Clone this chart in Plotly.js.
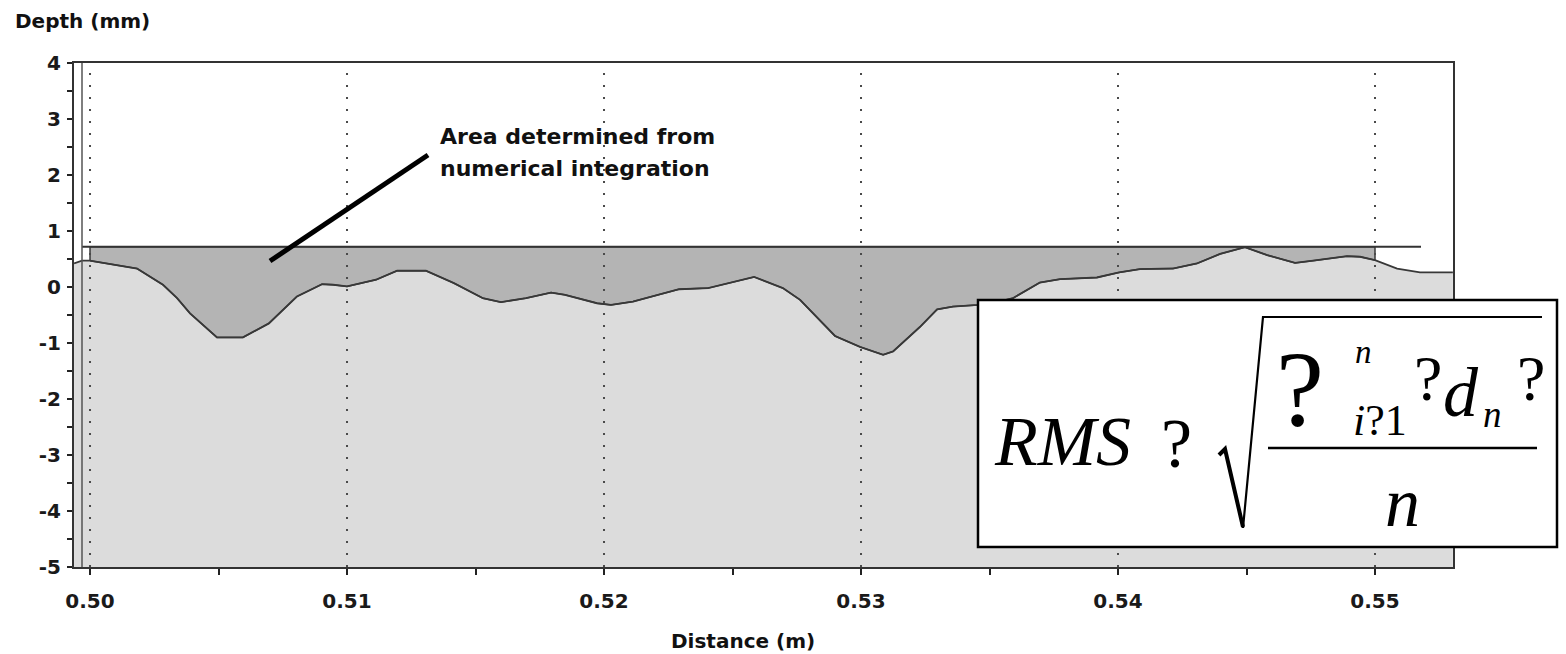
<!DOCTYPE html>
<html><head><meta charset="utf-8">
<script src="https://cdn.plot.ly/plotly-3.0.1.min.js"></script>
<style>html,body{margin:0;padding:0;background:#fff;}#chart{width:1566px;height:654px;}</style>
</head><body><div id="chart"></div>
<script>
// ---- data ----
const distance = [0.49938, 0.49969, 0.50000, 0.50105, 0.50183, 0.50284, 0.50339, 0.50389, 0.50494, 0.50595,
  0.50696, 0.50805, 0.50903, 0.50946, 0.51000, 0.51113, 0.51195, 0.51307, 0.51416, 0.51529,
  0.51599, 0.51696, 0.51794, 0.51848, 0.51973, 0.52027, 0.52113, 0.52292, 0.52405, 0.52584,
  0.52696, 0.52763, 0.52899, 0.52996, 0.53086, 0.53125, 0.53230, 0.53296, 0.53358, 0.53455,
  0.53521, 0.53591, 0.53696, 0.53774, 0.53918, 0.54004, 0.54086, 0.54214, 0.54307, 0.54397,
  0.54494, 0.54580, 0.54689, 0.54759, 0.54891, 0.54942, 0.55000, 0.55086, 0.55175, 0.55303];
const depth = [0.42, 0.47, 0.47, 0.39, 0.33, 0.04, -0.20, -0.47, -0.90, -0.90,
  -0.65, -0.17, 0.05, 0.04, 0.01, 0.13, 0.29, 0.29, 0.07, -0.20,
  -0.27, -0.20, -0.10, -0.14, -0.29, -0.32, -0.26, -0.04, -0.02, 0.18,
  -0.02, -0.23, -0.875, -1.07, -1.21, -1.15, -0.71, -0.40, -0.35, -0.32,
  -0.28, -0.20, 0.08, 0.14, 0.17, 0.26, 0.32, 0.33, 0.42, 0.59,
  0.71, 0.57, 0.43, 0.47, 0.55, 0.54, 0.48, 0.33, 0.26, 0.26];
const areaStart = 0.50, areaEnd = 0.55;
const refLevel = 0.72;
const refLineX = [0.49969, 0.55179];
const xTickVals = [0.50, 0.51, 0.52, 0.53, 0.54, 0.55];
const xTickText = ['0.50', '0.51', '0.52', '0.53', '0.54', '0.55'];
const yTickVals = [-5, -4, -3, -2, -1, 0, 1, 2, 3, 4];
const yTickText = ['-5', '-4', '-3', '-2', '-1', '0', '1', '2', '3', '4'];
const xRange = [0.499377, 0.553035];
const yRange = [-5, 4];
const pointerX = [0.507004, 0.513152];
const pointerY = [0.464, 2.357];

// ---- layout geometry helpers (pixels -> paper) ----
const L = 74, R = 1453, T = 63, B = 567;
const px = x => (x - L) / (R - L);
const py = y => (B - y) / (B - T);

// ---- traces ----
const n = distance.length;
const lightTrace = {
  x: distance.concat([distance[n - 1], distance[0]]),
  y: depth.concat([yRange[0], yRange[0]]),
  type: 'scatter', mode: 'lines', fill: 'toself', fillcolor: '#dcdcdc',
  line: {width: 0}, hoverinfo: 'skip', showlegend: false
};
const ax = [], ay = [];
for (let i = 0; i < n; i++) {
  if (distance[i] >= areaStart - 1e-9 && distance[i] <= areaEnd + 1e-9) { ax.push(distance[i]); ay.push(depth[i]); }
}
const darkTrace = {
  x: ax.concat([areaEnd, areaStart, areaStart]),
  y: ay.concat([refLevel, refLevel, ay[0]]),
  type: 'scatter', mode: 'lines', fill: 'toself', fillcolor: '#b4b4b4',
  line: {width: 1.5, color: '#3a3a3a'}, hoverinfo: 'skip', showlegend: false
};
const profileTrace = {
  x: distance, y: depth, type: 'scatter', mode: 'lines',
  line: {width: 1.8, color: '#383838'}, hoverinfo: 'skip', showlegend: false
};
const refTrace = {
  x: refLineX, y: [refLevel, refLevel], type: 'scatter', mode: 'lines',
  line: {width: 2, color: '#333'}, hoverinfo: 'skip', showlegend: false
};

// ---- shapes ----
const shapes = [];
xTickVals.forEach(v => shapes.push({
  type: 'line', xref: 'x', yref: 'paper', x0: v, x1: v, y0: 0, y1: 1, layer: 'above',
  line: {color: '#4a4a4a', width: 2, dash: '2px,10px'}
}));
shapes.push({type: 'line', xref: 'paper', yref: 'paper', x0: px(82), x1: px(82), y0: 0, y1: 1, layer: 'above',
  line: {color: '#555', width: 1.5}});
shapes.push({type: 'line', xref: 'x', yref: 'y', x0: pointerX[0], x1: pointerX[1], y0: pointerY[0], y1: pointerY[1],
  layer: 'above', line: {color: '#000', width: 5}});
// formula box
shapes.push({type: 'rect', xref: 'paper', yref: 'paper', x0: px(978), x1: px(1557), y0: py(547), y1: py(300),
  layer: 'above', fillcolor: '#fff', line: {color: '#000', width: 2.5}});
// radical sign
shapes.push({type: 'path', xref: 'paper', yref: 'paper', layer: 'above',
  path: `M ${px(1219)},${py(455)} L ${px(1225)},${py(449)} L ${px(1243)},${py(527)}`,
  line: {color: '#000', width: 4}});
shapes.push({type: 'path', xref: 'paper', yref: 'paper', layer: 'above',
  path: `M ${px(1243)},${py(528)} L ${px(1263)},${py(317)} L ${px(1542)},${py(317)}`,
  line: {color: '#000', width: 2.2}});
// fraction bar
shapes.push({type: 'line', xref: 'paper', yref: 'paper', layer: 'above',
  x0: px(1268), x1: px(1537), y0: py(448), y1: py(448), line: {color: '#000', width: 2.5}});

// ---- annotations ----
const sans = {family: 'DejaVu Sans', weight: 700, color: '#111'};
const serif = 'Liberation Serif, Times New Roman, serif';
function ann(text, x, y, size, opts) {
  return Object.assign({text: text, xref: 'paper', yref: 'paper', x: px(x), y: py(y), showarrow: false,
    xanchor: 'center', yanchor: 'middle', font: {family: serif, size: size, color: '#000'}}, opts || {});
}
const annotations = [
  ann('Depth (mm)', 13, 21, 20, {xanchor: 'left', font: Object.assign({size: 20}, sans)}),
  ann('Distance (m)', 743, 641, 20, {font: Object.assign({size: 20}, sans)}),
  ann('Area determined from', 438, 136, 22, {xanchor: 'left', font: Object.assign({size: 22}, sans)}),
  ann('numerical integration', 438, 168, 22, {xanchor: 'left', font: Object.assign({size: 22}, sans)}),
  ann('<i>RMS</i>', 1062, 441, 70),
  ann('?', 1176, 443, 70),
  ann('?', 1300, 389, 108),
  ann('<i>n</i>', 1363, 352, 33),
  ann('<i>i</i>?1', 1380, 421, 44),
  ann('?', 1428, 378, 64),
  ann('<i>d</i>', 1461, 392, 70),
  ann('<i>n</i>', 1492, 414, 37),
  ann('?', 1531, 378, 64),
  ann('<i>n</i>', 1402, 502, 70)
];

const tickfont = {family: 'DejaVu Sans', weight: 700, color: '#1a1a1a'};
const layout = {
  width: 1566, height: 654,
  margin: {l: L, r: 1566 - R, t: T, b: 654 - B, pad: 0},
  paper_bgcolor: '#fff', plot_bgcolor: '#fff',
  showlegend: false,
  xaxis: {
    range: xRange, tickvals: xTickVals, ticktext: xTickText,
    ticks: 'outside', ticklen: 6, tickwidth: 2, tickcolor: '#222',
    minor: {dtick: 0.005, tick0: 0.5, ticks: 'outside', ticklen: 6, tickwidth: 2, tickcolor: '#222'},
    showline: true, linewidth: 2, linecolor: '#333', mirror: true,
    showgrid: false, zeroline: false, layer: 'above traces',
    tickfont: Object.assign({size: 20}, tickfont), ticklabelstandoff: 9
  },
  xaxis2: {
    overlaying: 'x', anchor: 'y', side: 'bottom', range: xRange,
    dtick: 0.005, tick0: 0.5, ticks: 'inside', ticklen: 6, tickwidth: 2, tickcolor: '#222',
    showticklabels: false, showline: false, showgrid: false, zeroline: false, layer: 'above traces'
  },
  yaxis: {
    range: yRange, tickvals: yTickVals, ticktext: yTickText,
    ticks: 'outside', ticklen: 5, tickwidth: 2, tickcolor: '#222',
    minor: {dtick: 0.5, tick0: 0, ticks: 'outside', ticklen: 5, tickwidth: 2, tickcolor: '#222'},
    showline: true, linewidth: 2, linecolor: '#333', mirror: true,
    showgrid: false, zeroline: false, layer: 'above traces',
    tickfont: Object.assign({size: 20}, tickfont), ticklabelstandoff: 2
  },
  yaxis2: {
    overlaying: 'y', anchor: 'x', side: 'left', range: yRange,
    dtick: 1, tick0: 0.5, ticks: 'inside', ticklen: 4, tickwidth: 2, tickcolor: '#222',
    showticklabels: false, showline: false, showgrid: false, zeroline: false, layer: 'above traces'
  },
  shapes: shapes,
  annotations: annotations
};

Plotly.newPlot('chart', [lightTrace, darkTrace, profileTrace, refTrace], layout, {displayModeBar: false, staticPlot: true});
</script>
</body></html>
